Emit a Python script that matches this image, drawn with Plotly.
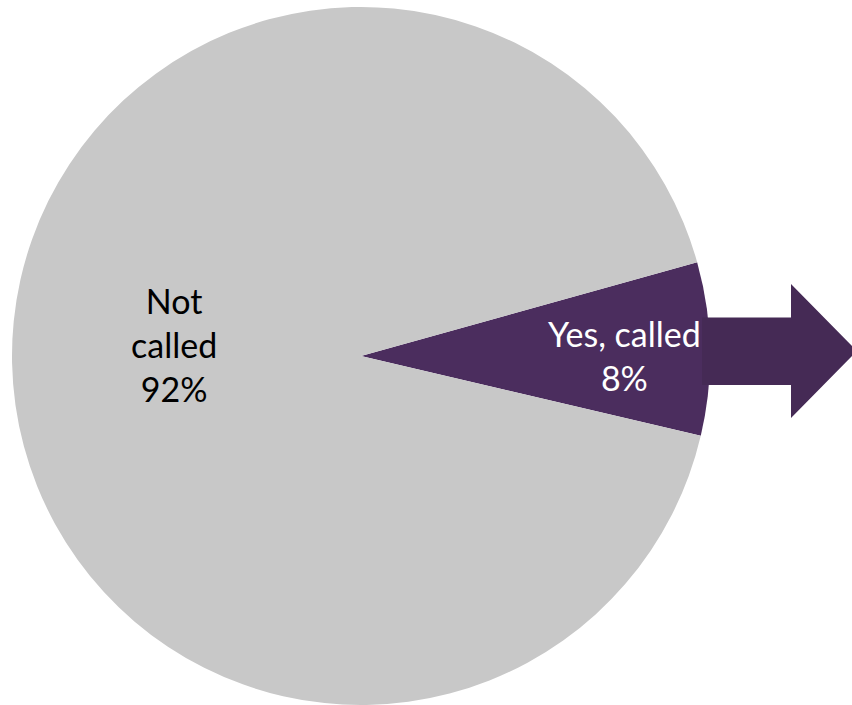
import plotly.graph_objects as go

labels = ["Yes, called", "Not called"]
values = [8, 92]
colors = ["#4b2d5e", "#c8c8c8"]
label_lines = [["Yes, called", "8%"], ["Not", "called", "92%"]]

W, H = 852, 705

fig = go.Figure()
fig.add_trace(go.Pie(
    labels=labels,
    values=values,
    sort=False,
    direction="clockwise",
    rotation=74.4,
    marker=dict(colors=colors, line=dict(width=0)),
    textinfo="none",
    hoverinfo="label+percent",
    domain=dict(x=[12 / W, 710 / W], y=[0, 698 / H]),
    showlegend=False,
))

# arrow (decoration) pointing right from the purple slice
pts = [(702, 317.5), (791, 317.5), (791, 284), (857, 351), (791, 418), (791, 385), (702, 385)]
path = "M " + " L ".join(f"{x / W},{1 - y / H}" for x, y in pts) + " Z"
fig.add_shape(type="path", path=path, xref="paper", yref="paper",
              fillcolor="#452a55", line=dict(width=0), layer="above")

font_family = "Lato, 'Open Sans', sans-serif"
# labels
fig.add_annotation(x=174 / W, y=1 - 345 / H, xref="paper", yref="paper",
                   text="<br>".join(label_lines[1]), showarrow=False,
                   font=dict(family=font_family, size=34, color="#000000"),
                   align="center", xanchor="center", yanchor="middle")
fig.add_annotation(x=624 / W, y=1 - 356 / H, xref="paper", yref="paper",
                   text="<br>".join(label_lines[0]), showarrow=False,
                   font=dict(family=font_family, size=34, color="#ffffff"),
                   align="center", xanchor="center", yanchor="middle")

fig.update_layout(
    width=W, height=H,
    margin=dict(l=0, r=0, t=0, b=0),
    paper_bgcolor="white", plot_bgcolor="white",
)

fig.write_html("out.html", config={"displayModeBar": False},
               post_script="document.body.style.margin='0';document.body.style.overflow='hidden';")
